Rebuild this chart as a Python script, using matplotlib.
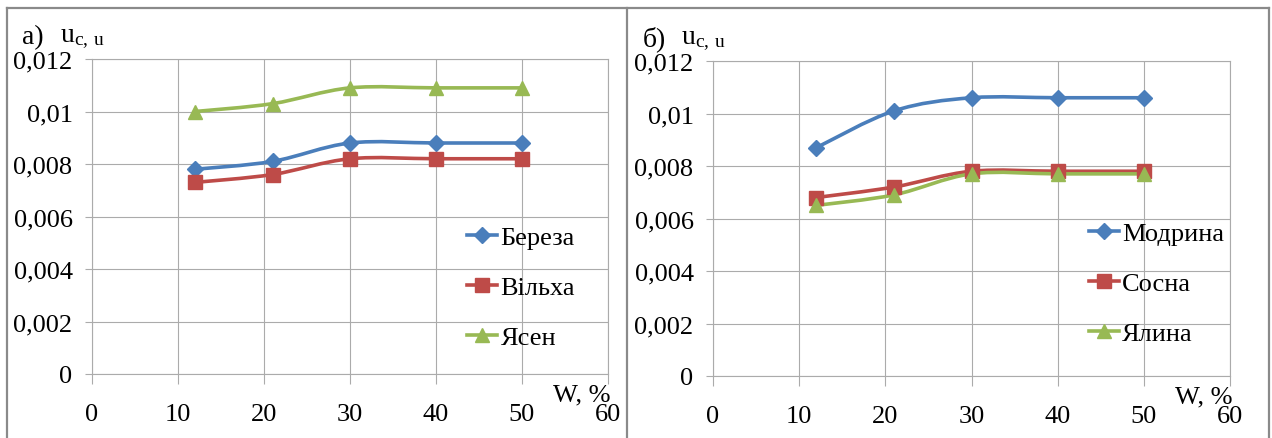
import numpy as np
import matplotlib
matplotlib.use('Agg')
from matplotlib import pyplot as plt
from matplotlib.path import Path
from matplotlib.patches import PathPatch
from matplotlib.lines import Line2D

plt.rcParams['font.family'] = ['Liberation Serif', 'DejaVu Serif']
plt.rcParams['mathtext.fontset'] = 'custom'
plt.rcParams['mathtext.rm'] = 'Liberation Serif'
plt.rcParams['mathtext.it'] = 'Liberation Serif'

# data
moisture = [12, 21, 30, 40, 50]

names_a = ['Береза', 'Вільха', 'Ясен']
bereza = [0.0078, 0.0081, 0.0088, 0.0088, 0.0088]
vilkha = [0.0073, 0.0076, 0.0082, 0.0082, 0.0082]
yasen = [0.0100, 0.0103, 0.0109, 0.0109, 0.0109]

names_b = ['Модрина', 'Сосна', 'Ялина']
modryna = [0.0087, 0.0101, 0.0106, 0.0106, 0.0106]
sosna = [0.0068, 0.0072, 0.0078, 0.0078, 0.0078]
yalyna = [0.0065, 0.0069, 0.0077, 0.0077, 0.0077]

x_ticks = [0, 10, 20, 30, 40, 50, 60]
y_ticks = [0, 0.002, 0.004, 0.006, 0.008, 0.010, 0.012]
y_labels = ['0', '0,002', '0,004', '0,006', '0,008', '0,01', '0,012']

colors = ['#4A7EBB', '#BE4B48', '#98B954']
markers = ['D', 's', '^']
msizes = [8.5, 10.5, 10.5]
grid_col = '#ABABAB'
fs = 19


def smooth_path(x, y):
    # Excel-style smoothed line drawn as cubic Bezier segments
    pts = np.column_stack([x, y]).astype(float)
    n = len(pts)
    verts = [pts[0]]
    codes = [Path.MOVETO]
    for i in range(n - 1):
        p0 = pts[i - 1] if i > 0 else pts[i]
        p1, p2 = pts[i], pts[i + 1]
        p3 = pts[i + 2] if i + 2 < n else pts[i + 1]
        c1 = p1 + (p2 - p0) / 6.0
        c2 = p2 - (p3 - p1) / 6.0
        verts += [c1, c2, p2]
        codes += [Path.CURVE4] * 3
    return Path(verts, codes)


def draw_panel(ax, series, names, tag, leg_y):
    ax.set_xlim(0, 60)
    ax.set_ylim(0, 0.012)
    ax.set_xticks(x_ticks)
    ax.set_yticks(y_ticks)
    ax.set_yticklabels(y_labels)
    ax.grid(True, color=grid_col, linewidth=0.8)
    ax.set_axisbelow(True)
    for sp in ax.spines.values():
        sp.set_color(grid_col)
        sp.set_linewidth(0.8)
    ax.tick_params(axis='x', direction='out', length=7, width=0.8,
                   color=grid_col, pad=14, labelsize=fs)
    ax.tick_params(axis='y', direction='out', length=5, width=0.8,
                   color=grid_col, pad=9, labelsize=fs)

    handles = []
    for vals, c, m, ms in zip(series, colors, markers, msizes):
        ax.add_patch(PathPatch(smooth_path(moisture, vals), facecolor='none',
                               edgecolor=c, linewidth=2.6, zorder=3))
        ax.plot(moisture, vals, linestyle='none', marker=m, markersize=ms,
                color=c, zorder=4)
        handles.append(Line2D([], [], color=c, linewidth=2.6, marker=m,
                              markersize=ms))
    ax.legend(handles, names, loc='upper left', bbox_to_anchor=(0.727, leg_y),
              frameon=False, fontsize=fs, handlelength=1.15,
              handletextpad=0.12, labelspacing=1.0, borderpad=0,
              borderaxespad=0)
    ax.text(1.005, -0.065, 'W, %', transform=ax.transAxes, ha='right',
            va='center', fontsize=fs)
    ax.text(-0.135, 1.03, tag, transform=ax.transAxes, ha='left',
            va='bottom', fontsize=20)
    ax.text(-0.062, 1.03, r'$\mathrm{u}_{\mathrm{c,\,u}}$',
            transform=ax.transAxes, ha='left', va='bottom', fontsize=20)


fig = plt.figure(figsize=(12.72, 4.39), dpi=100)
ax1 = fig.add_axes([92 / 1272, 1 - 375 / 439, 516 / 1272, 315 / 439])
ax2 = fig.add_axes([713 / 1272, 1 - 377 / 439, 517 / 1272, 315 / 439])

draw_panel(ax1, [bereza, vilkha, yasen], names_a, 'а)', 0.47)
draw_panel(ax2, [modryna, sosna, yalyna], names_b, 'б)', 0.49)

# panel frames
frame = dict(color='#8A8A8A', linewidth=1.6, transform=fig.transFigure)
top = 1 - 9 / 439
for xs, ys in [([7 / 1272, 7 / 1272], [0, top]),
               ([7 / 1272, 1269 / 1272], [top, top]),
               ([627 / 1272, 627 / 1272], [0, top]),
               ([1269 / 1272, 1269 / 1272], [0, top])]:
    fig.add_artist(Line2D(xs, ys, **frame))

fig.savefig('out.png', dpi=100)
